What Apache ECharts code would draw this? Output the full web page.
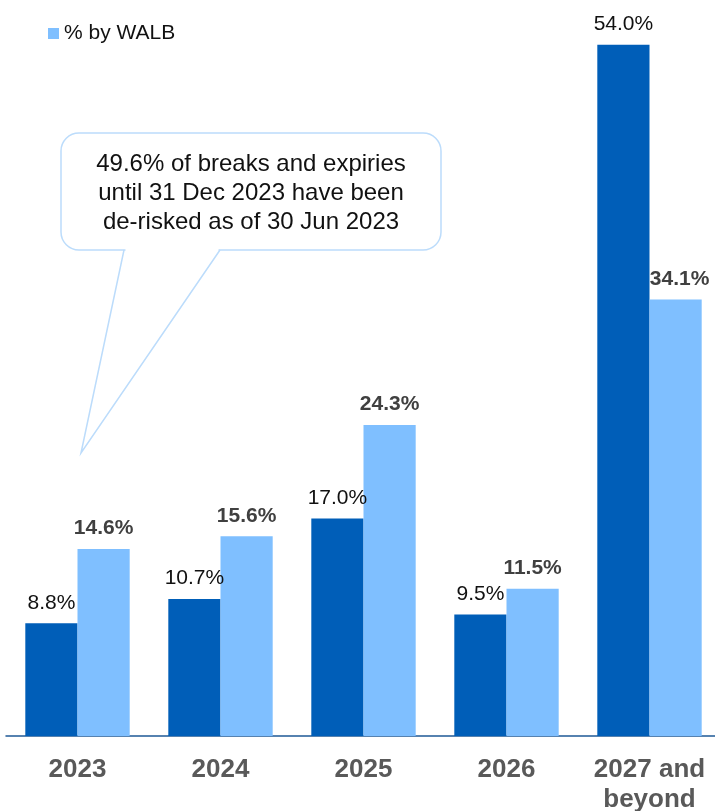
<!DOCTYPE html>
<html>
<head>
<meta charset="utf-8">
<script src="https://cdn.jsdelivr.net/npm/echarts@6/dist/echarts.min.js"></script>
<style>
  html, body { margin: 0; padding: 0; background: #fff; }
  #chart { width: 715px; height: 811px; }
</style>
</head>
<body>
<div id="chart"></div>
<script>
// Lease expiry profile by year
const categories = ['2023', '2024', '2025', '2026', '2027 and\nbeyond'];
const seriesNames = ['% by NLA', '% by WALB'];
const valuesA = [8.8, 10.7, 17.0, 9.5, 54.0];
const valuesB = [14.6, 15.6, 24.3, 11.5, 34.1];
const calloutText = '49.6% of breaks and expiries\nuntil 31 Dec 2023 have been\nde-risked as of 30 Jun 2023';

const chart = echarts.init(document.getElementById('chart'), null, { renderer: 'canvas' });

const font = 'Liberation Sans, Arial, sans-serif';
const bubbleStroke = '#BCDCFB';
const barLayout = { barGap: '0%', barCategoryGap: '27%' };
const pct = p => p.value.toFixed(1) + '%';

const labelA = { show: true, position: 'top', distance: 10, formatter: pct,
  fontSize: 21, color: '#111', fontFamily: font };
const labelB = { show: true, position: 'top', distance: 10, formatter: pct,
  fontSize: 21, fontWeight: 'bold', color: '#404040', fontFamily: font };

// the last light-blue label is nudged right so it clears the tall dark bar
const labelDataB = valuesB.map((v, i) =>
  i === valuesB.length - 1 ? { value: v, label: { offset: [4, 0] } } : v);

const xAxisBase = { type: 'category', data: categories };

chart.setOption({
  animation: false,
  textStyle: { fontFamily: font },
  grid: {
    left: 6, top: 0, width: 715, height: 736,
    containLabel: false, outerBoundsMode: 'none'
  },
  legend: {
    data: [seriesNames[1]],
    left: 48, top: 23, padding: 0,
    icon: 'rect', itemWidth: 11, itemHeight: 11, itemGap: 5,
    textStyle: { fontSize: 21, color: '#111', fontFamily: font }
  },
  xAxis: [
    Object.assign({}, xAxisBase, {
      axisLine: { show: true, lineStyle: { color: '#1F5A96', width: 1.5 } },
      axisTick: { show: false },
      axisLabel: {
        interval: 0, hideOverlap: false,
        fontSize: 26, fontWeight: 'bold', color: '#595959', margin: 19,
        lineHeight: 30, fontFamily: font
      }
    }),
    // overlay axis that carries the value labels above every bar
    Object.assign({}, xAxisBase, { show: false })
  ],
  yAxis: {
    type: 'value', min: 0, max: 57.5,
    show: false, splitLine: { show: false }
  },
  series: [
    Object.assign({
      name: seriesNames[0], type: 'bar', data: valuesA,
      itemStyle: { color: '#005EB8' }
    }, barLayout),
    {
      name: seriesNames[1], type: 'bar', data: valuesB,
      itemStyle: { color: '#7FBFFF' }
    },
    Object.assign({
      name: 'labelsA', type: 'bar', xAxisIndex: 1, data: valuesA, z: 5,
      itemStyle: { color: 'rgba(0,0,0,0)' }, label: labelA, silent: true
    }, barLayout),
    {
      name: 'labelsB', type: 'bar', xAxisIndex: 1, data: labelDataB, z: 5,
      itemStyle: { color: 'rgba(0,0,0,0)' }, label: labelB, silent: true
    }
  ],
  graphic: [
    // callout body
    {
      type: 'rect',
      shape: { x: 61, y: 133, width: 380, height: 117, r: 18 },
      style: { fill: '#fff', stroke: bubbleStroke, lineWidth: 1.5 },
      z: 10
    },
    // open the body where the pointer joins it
    {
      type: 'line',
      shape: { x1: 125.5, y1: 250, x2: 218.5, y2: 250 },
      style: { stroke: '#fff', lineWidth: 3 },
      z: 11
    },
    // pointer
    {
      type: 'polyline',
      shape: { points: [[124, 250], [81, 453], [220, 250]] },
      style: { fill: null, stroke: bubbleStroke, lineWidth: 1.5 },
      z: 12
    },
    {
      type: 'text',
      x: 251, y: 193,
      style: {
        text: calloutText,
        fontSize: 24, fontFamily: font, fill: '#111',
        textAlign: 'center', textVerticalAlign: 'middle', lineHeight: 29
      },
      z: 13
    }
  ]
});
</script>
</body>
</html>
